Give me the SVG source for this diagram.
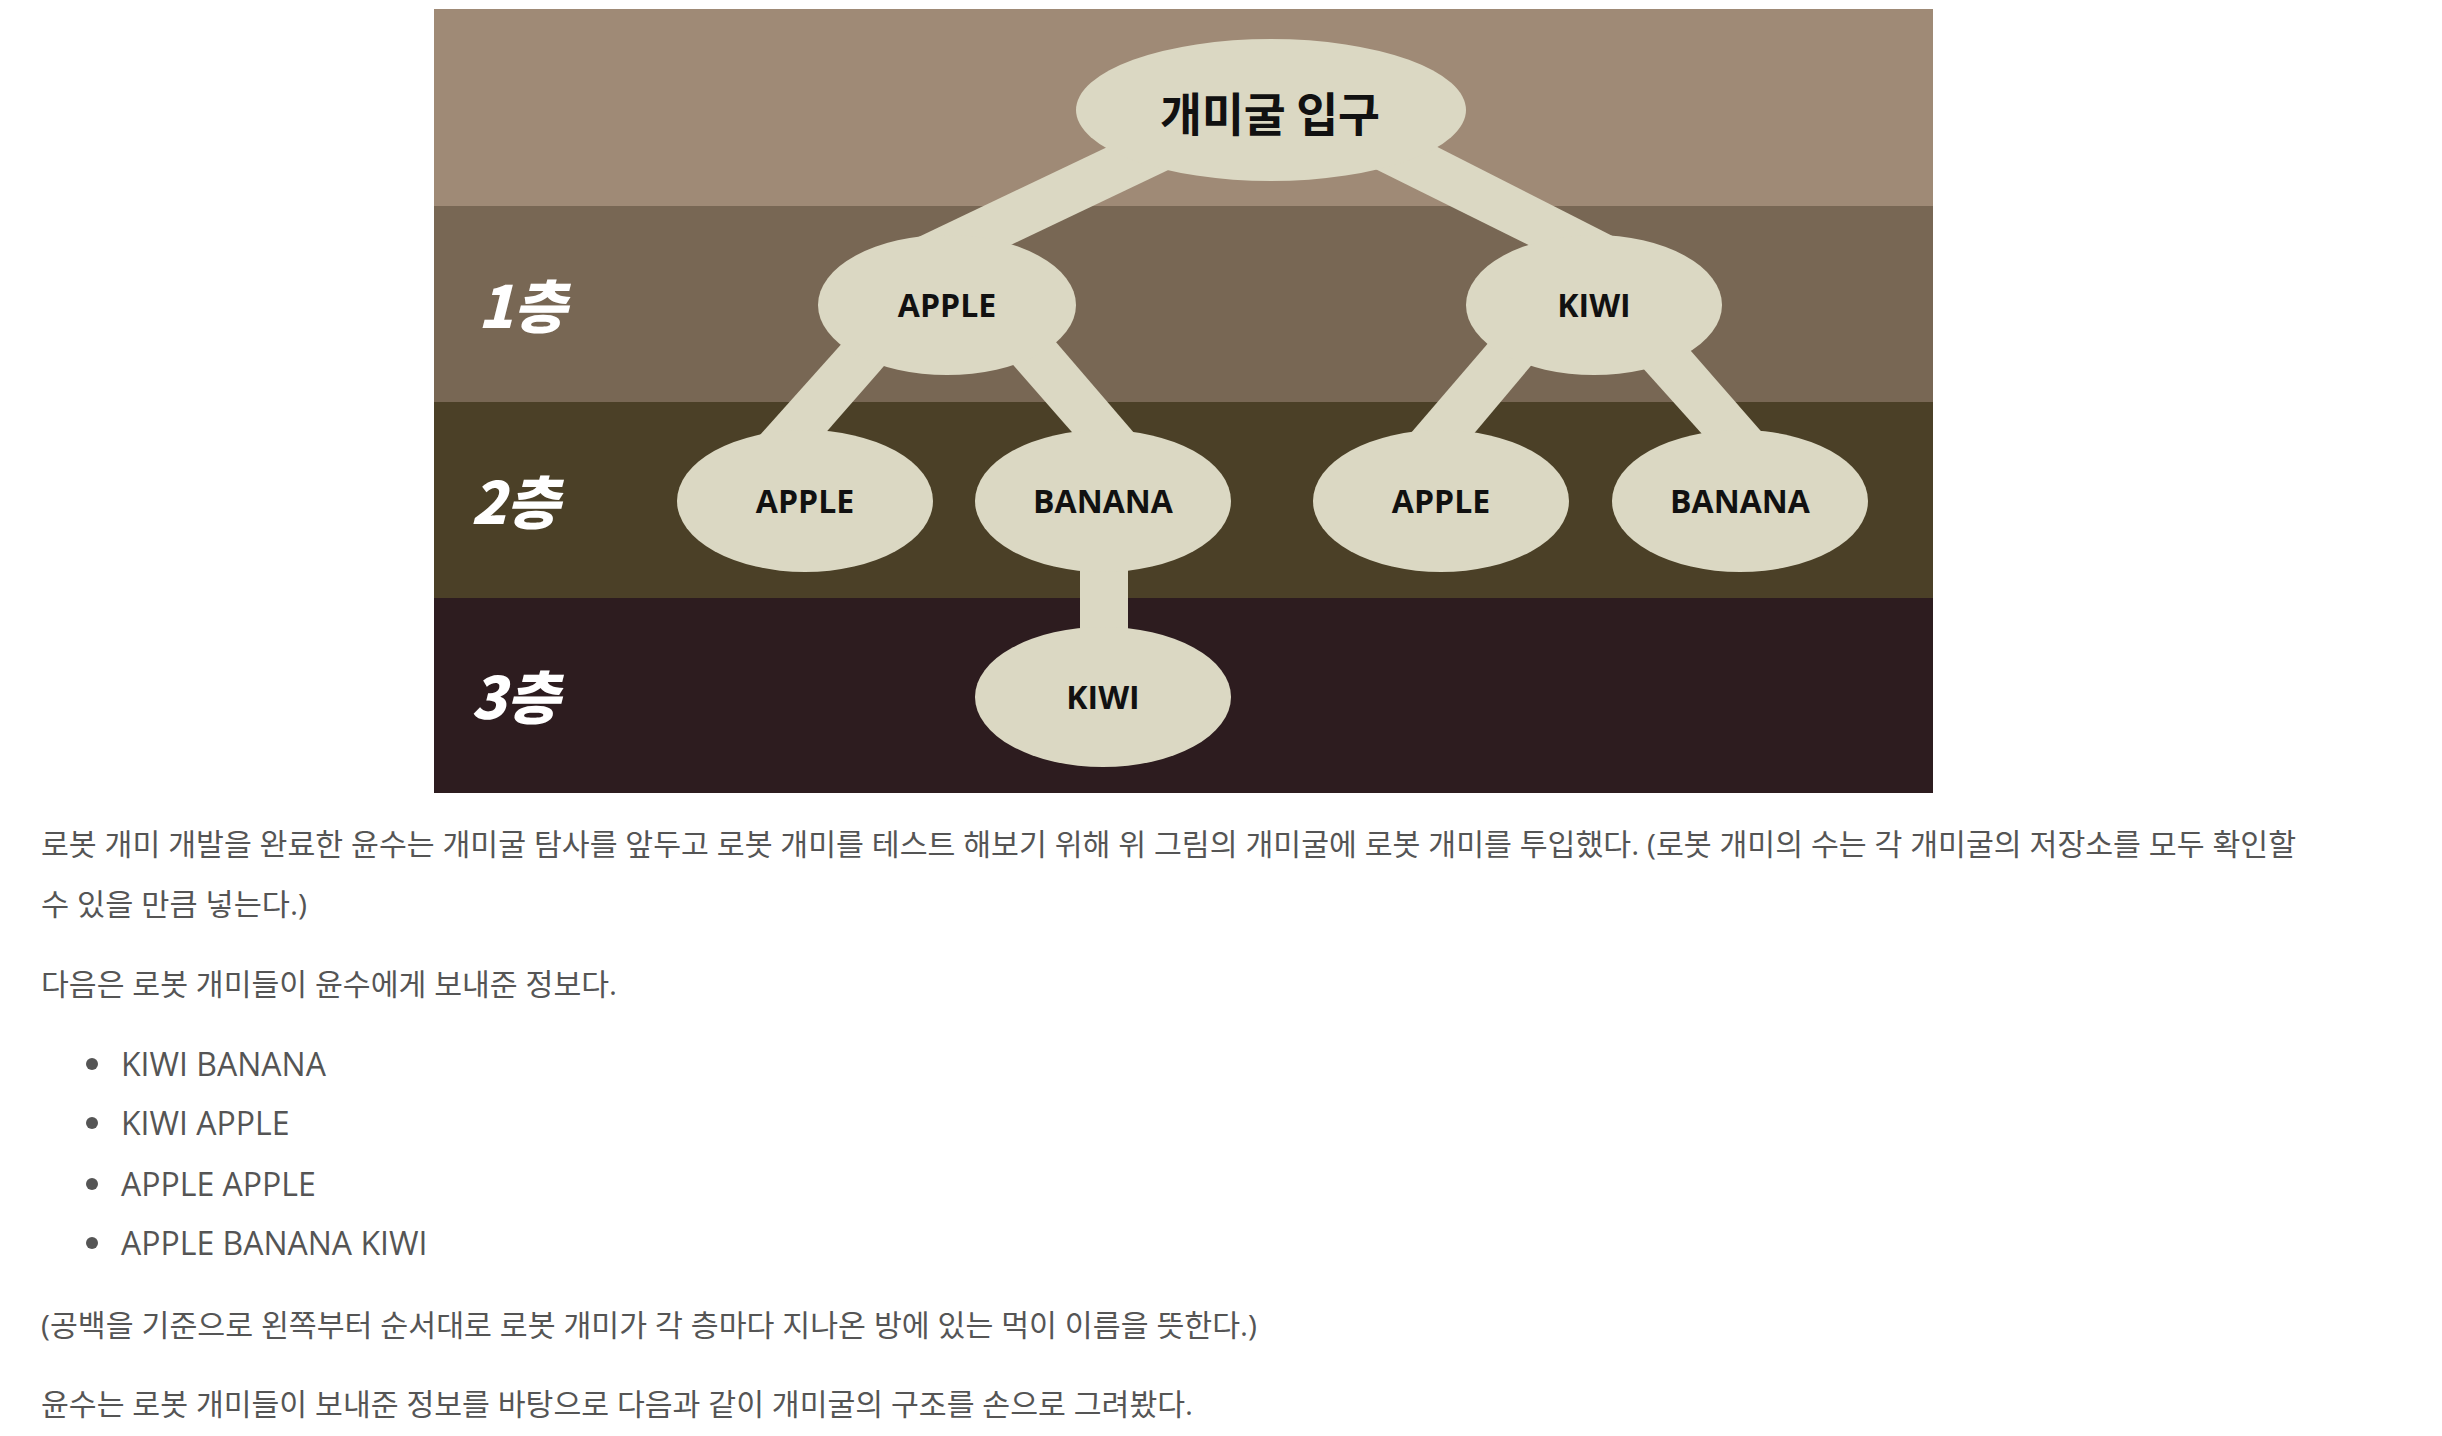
<svg xmlns="http://www.w3.org/2000/svg" width="2442" height="1436" viewBox="0 0 2442 1436">
<style>
.node{fill:#dbd8c3}
.band{fill:#dbd8c3}
.lbl{font-family:"Open Sans","Noto Sans",sans-serif;font-weight:700;font-size:32px;fill:#111;text-anchor:middle}
.root{font-family:"Noto Sans CJK KR",sans-serif;font-weight:700;font-size:46px;fill:#111}
.floor{font-family:"Noto Sans CJK KR",sans-serif;font-weight:900;font-style:italic;font-size:58px;fill:#fff}
.body{font-family:"Open Sans","Noto Sans CJK KR",sans-serif;font-size:30px;fill:#555}
.li{font-family:"Open Sans","Noto Sans CJK KR",sans-serif;font-size:32px;fill:#555}
</style>
<rect width="2442" height="1436" fill="#fff"/>
<g id="background">
<rect x="434" y="9" width="1499" height="197" fill="#9f8a76"/>
<rect x="434" y="206" width="1499" height="196" fill="#786754"/>
<rect x="434" y="402" width="1499" height="196" fill="#4b4027"/>
<rect x="434" y="598" width="1499" height="195" fill="#2d1c1f"/>
</g>
<g id="floors">
<text class="floor" x="478" y="328">1층</text>
<text class="floor" x="471" y="524">2층</text>
<text class="floor" x="471" y="719">3층</text>
</g>
<g id="connectors">
<polygon class="band" points="1141,131 1204,153 979,260 887,252"/>
<polygon class="band" points="1402,129 1646,253 1563,262 1341,152"/>
<polygon class="band" points="862,321 905,342 808,453 742,455"/>
<polygon class="band" points="1037,320 1153,455 1092,455 993,342"/>
<polygon class="band" points="1508,320 1551,342 1456,455 1392,455"/>
<polygon class="band" points="1670,327 1780,453 1720,454 1623,346"/>
<rect class="band" x="1080" y="540" width="48" height="120"/>
</g>
<g id="node-root">
<ellipse class="node" cx="1271" cy="110" rx="195" ry="71"/>
<text class="root" x="1160" y="131" textLength="220" lengthAdjust="spacingAndGlyphs">개미굴 입구</text>
</g>
<g id="node-apple1">
<ellipse class="node" cx="947" cy="305" rx="129" ry="70"/>
<text class="lbl" x="947" y="317">APPLE</text>
</g>
<g id="node-kiwi1">
<ellipse class="node" cx="1594" cy="305" rx="128" ry="70"/>
<text class="lbl" x="1594" y="317">KIWI</text>
</g>
<g id="node-apple2a">
<ellipse class="node" cx="805" cy="501" rx="128" ry="71"/>
<text class="lbl" x="805" y="513">APPLE</text>
</g>
<g id="node-banana2a">
<ellipse class="node" cx="1103" cy="501" rx="128" ry="71"/>
<text class="lbl" x="1103" y="513">BANANA</text>
</g>
<g id="node-apple2b">
<ellipse class="node" cx="1441" cy="501" rx="128" ry="71"/>
<text class="lbl" x="1441" y="513">APPLE</text>
</g>
<g id="node-banana2b">
<ellipse class="node" cx="1740" cy="501" rx="128" ry="71"/>
<text class="lbl" x="1740" y="513">BANANA</text>
</g>
<g id="node-kiwi3">
<ellipse class="node" cx="1103" cy="697" rx="128" ry="70"/>
<text class="lbl" x="1103" y="709">KIWI</text>
</g>
<g id="text">
<text class="body" x="41" y="855" textLength="2255" lengthAdjust="spacingAndGlyphs">로봇 개미 개발을 완료한 윤수는 개미굴 탐사를 앞두고 로봇 개미를 테스트 해보기 위해 위 그림의 개미굴에 로봇 개미를 투입했다. (로봇 개미의 수는 각 개미굴의 저장소를 모두 확인할</text>
<text class="body" x="41" y="915" textLength="266" lengthAdjust="spacingAndGlyphs">수 있을 만큼 넣는다.)</text>
<text class="body" x="41" y="995" textLength="576" lengthAdjust="spacingAndGlyphs">다음은 로봇 개미들이 윤수에게 보내준 정보다.</text>
<circle cx="92" cy="1064" r="6" fill="#555"/>
<circle cx="92" cy="1123" r="6" fill="#555"/>
<circle cx="92" cy="1184" r="6" fill="#555"/>
<circle cx="92" cy="1243" r="6" fill="#555"/>
<text class="li" x="121" y="1076">KIWI BANANA</text>
<text class="li" x="121" y="1135">KIWI APPLE</text>
<text class="li" x="121" y="1196">APPLE APPLE</text>
<text class="li" x="121" y="1255">APPLE BANANA KIWI</text>
<text class="body" x="41" y="1336" textLength="1216" lengthAdjust="spacingAndGlyphs">(공백을 기준으로 왼쪽부터 순서대로 로봇 개미가 각 층마다 지나온 방에 있는 먹이 이름을 뜻한다.)</text>
<text class="body" x="41" y="1415" textLength="1152" lengthAdjust="spacingAndGlyphs">윤수는 로봇 개미들이 보내준 정보를 바탕으로 다음과 같이 개미굴의 구조를 손으로 그려봤다.</text>
</g>
</svg>
